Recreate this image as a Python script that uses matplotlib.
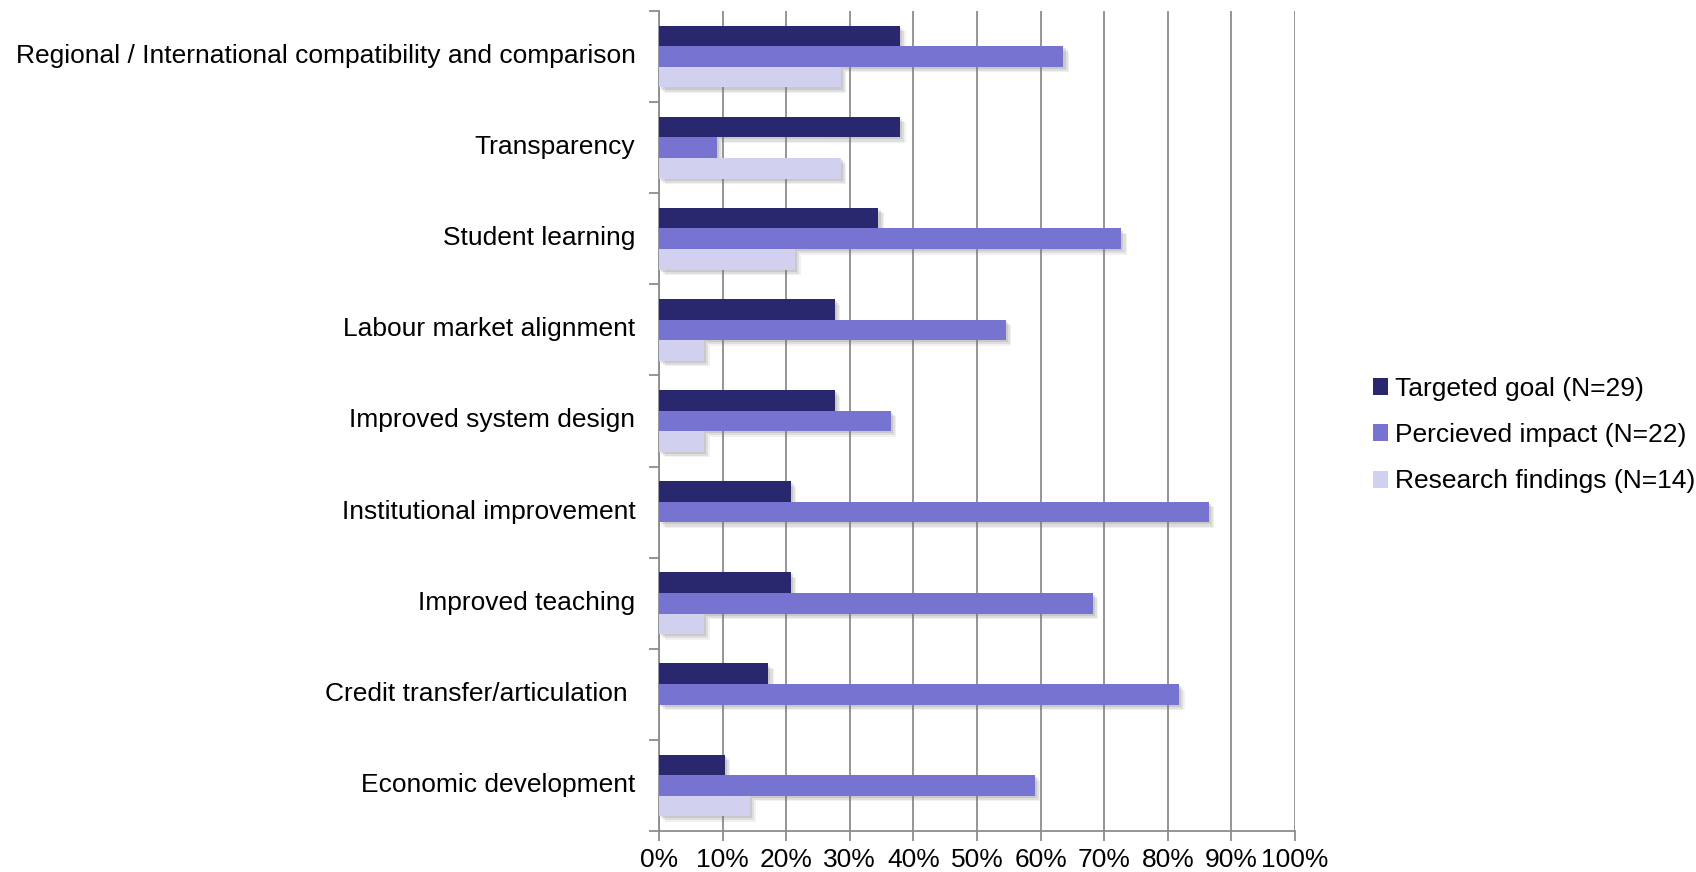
import matplotlib
matplotlib.use("Agg")
import matplotlib.pyplot as plt
import matplotlib.patheffects as pe
import matplotlib.transforms as mtransforms
from matplotlib.ticker import PercentFormatter, FixedLocator
import numpy as np

categories = [
    "Regional / International compatibility and comparison",
    "Transparency",
    "Student learning",
    "Labour market alignment",
    "Improved system design",
    "Institutional improvement",
    "Improved teaching",
    "Credit transfer/articulation ",
    "Economic development",
]
targeted_goal = [37.9, 37.9, 34.5, 27.6, 27.6, 20.7, 20.7, 17.2, 10.3]
perceived_impact = [63.6, 9.1, 72.7, 54.5, 36.4, 86.4, 68.2, 81.8, 59.1]
research_findings = [28.6, 28.6, 21.4, 7.1, 7.1, 0.0, 7.1, 0.0, 14.3]
series_labels = ["Targeted goal (N=29)", "Percieved impact (N=22)", "Research findings (N=14)"]
x_ticks = list(range(0, 101, 10))

colors = ["#29286F", "#7674D0", "#D1D1EF"]
plt.rcParams["font.family"] = ["Liberation Sans", "DejaVu Sans"]
FS = 19

fig = plt.figure(figsize=(16.96, 8.72), dpi=100)
ax = fig.add_axes([659 / 1696, 1 - 831 / 872, (1295 - 659) / 1696, (831 - 11) / 872])

y = np.arange(len(categories))
h = 0.226
# soft drop shadow built from a few faint offset layers
shadow = [
    pe.SimplePatchShadow(offset=(4, -4), shadow_rgbFace="#777777", alpha=0.10),
    pe.SimplePatchShadow(offset=(3, -3), shadow_rgbFace="#777777", alpha=0.15),
    pe.SimplePatchShadow(offset=(1.5, -1.5), shadow_rgbFace="#777777", alpha=0.20),
    pe.Normal(),
]
handles = []
for i, (vals, c, lab) in enumerate(zip([targeted_goal, perceived_impact, research_findings], colors, series_labels)):
    bars = ax.barh(y + (i - 1) * h, vals, height=h, color=c, label=lab, zorder=3)
    for b in bars:
        if b.get_width() > 0:
            b.set_path_effects(shadow)
    handles.append(bars)

ax.set_ylim(len(categories) - 0.5, -0.5)
ax.set_xlim(0, 100)
ax.set_xticks(x_ticks)
ax.xaxis.set_major_formatter(PercentFormatter(decimals=0))
ax.grid(axis="x", color="#8C8C8C", linewidth=1.3, zorder=0)
ax.set_axisbelow(True)

ax.set_yticks(y)
ax.set_yticklabels(categories, fontsize=FS)
ax.yaxis.set_minor_locator(FixedLocator(np.arange(-0.5, len(categories), 1.0)))
ax.tick_params(axis="y", which="major", length=0, pad=17)
ax.tick_params(axis="y", which="minor", length=7, width=1.3, color="#8C8C8C", direction="out")
ax.tick_params(axis="x", length=7, width=1.3, color="#8C8C8C", direction="out", labelsize=FS, pad=5)

lift = mtransforms.ScaledTranslation(0, 3 / 100, fig.dpi_scale_trans)
for lbl in ax.get_yticklabels():
    lbl.set_transform(lbl.get_transform() + lift)

for s in ["top", "right"]:
    ax.spines[s].set_visible(False)
for s in ["left", "bottom"]:
    ax.spines[s].set_color("#8C8C8C")
    ax.spines[s].set_linewidth(1.3)

leg = fig.legend(handles=handles, labels=series_labels, loc="center left",
                 bbox_to_anchor=(1362 / 1696, 1 - 435 / 872), frameon=False,
                 fontsize=FS, handlelength=0.6, handleheight=0.6, handletextpad=0.25,
                 labelspacing=0.85, borderaxespad=0)
for p in leg.get_patches():
    p.set_path_effects([])

fig.savefig("out.png", dpi=100, facecolor="white")
